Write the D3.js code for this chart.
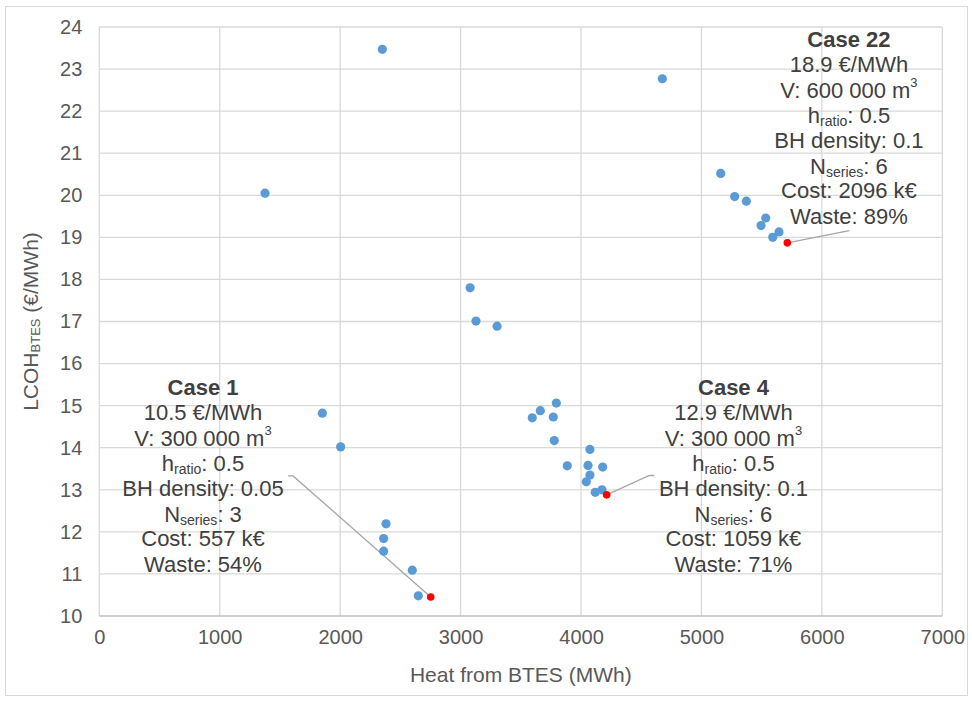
<!DOCTYPE html>
<html>
<head>
<meta charset="utf-8">
<script src="https://cdn.jsdelivr.net/npm/d3@7"></script>
<style>
  html, body { margin: 0; padding: 0; background: #fff; }
  svg { display: block; font-family: "Liberation Sans", Arial, sans-serif; }
</style>
</head>
<body>
<svg id="chart" width="972" height="701"></svg>
<script>
// ---- Data ----
const heatMWh = [2350, 4675, 1376, 5160, 5276, 5373, 5534, 5495, 5644, 5592,
                 3079, 3128, 3303, 3795, 3662, 3595, 3770, 3778, 4074, 3886,
                 4058, 4180, 4074, 4044, 4118, 4174, 1852, 2004, 2381, 2361,
                 2361, 2599, 2649];
const lcohBTES = [23.47, 22.77, 20.05, 20.52, 19.97, 19.86, 19.46, 19.28, 19.13, 19.00,
                  17.80, 17.01, 16.89, 15.06, 14.88, 14.71, 14.73, 14.17, 13.96, 13.57,
                  13.58, 13.54, 13.35, 13.19, 12.94, 13.00, 14.82, 14.02, 12.19, 11.84,
                  11.54, 11.09, 10.48];

const caseNames = ["Case 1", "Case 4", "Case 22"];
const caseHeat = [2752, 4213, 5713];
const caseLcoh = [10.45, 12.88, 18.87];
const caseCostLabel = ["10.5 €/MWh", "12.9 €/MWh", "18.9 €/MWh"];
const caseVolume = ["300 000", "300 000", "600 000"];
const caseHratio = ["0.5", "0.5", "0.5"];
const caseDensity = ["0.05", "0.1", "0.1"];
const caseNseries = ["3", "6", "6"];
const caseCost = ["557 k€", "1059 k€", "2096 k€"];
const caseWaste = ["54%", "71%", "89%"];
// label anchor (data units: centre x, first-line y) and leader elbow (data units)
const labelAnchorX = [861, 5266, 6225];
const labelAnchorY = [15.44, 15.44, 23.71];
const leaderElbowX = [1609, 4567, 6228];
const leaderElbowY = [13.33, 13.34, 19.16];
const leaderEndX = [1568, 4608, 6228];

const xTicks = [0, 1000, 2000, 3000, 4000, 5000, 6000, 7000];
const yTicks = [10, 11, 12, 13, 14, 15, 16, 17, 18, 19, 20, 21, 22, 23, 24];

// ---- Layout ----
const svg = d3.select("#chart");
const pL = 99.3, pR = 942.3, pT = 27, pB = 616;
const x = d3.scaleLinear().domain([0, 7000]).range([pL, pR]);
const y = d3.scaleLinear().domain([10, 24]).range([pB, pT]);

// outer chart border
svg.append("rect").attr("x", 5.5).attr("y", 6.5).attr("width", 962).attr("height", 689)
  .attr("fill", "#fff").attr("stroke", "#d9d9d9").attr("stroke-width", 1);

// gridlines
const grid = svg.append("g");
grid.selectAll("line.h").data(yTicks.filter(d => d > 10)).join("line")
  .attr("x1", pL).attr("x2", pR).attr("y1", d => y(d)).attr("y2", d => y(d))
  .attr("stroke", "#d9d9d9").attr("stroke-width", 1.3);
grid.selectAll("line.v").data(xTicks).join("line")
  .attr("y1", pT).attr("y2", pB).attr("x1", d => x(d)).attr("x2", d => x(d))
  .attr("stroke", "#d9d9d9").attr("stroke-width", 1.3);
// x axis line
svg.append("line").attr("x1", pL).attr("x2", pR).attr("y1", y(10)).attr("y2", y(10))
  .attr("stroke", "#bfbfbf").attr("stroke-width", 1.3);

// axes tick labels via d3 axes
const xAxis = svg.append("g").attr("transform", `translate(0,${pB})`)
  .call(d3.axisBottom(x).tickValues(xTicks).tickSize(0).tickPadding(14).tickFormat(d3.format("d")));
const yAxis = svg.append("g").attr("transform", `translate(${pL},0)`)
  .call(d3.axisLeft(y).tickValues(yTicks).tickSize(0).tickPadding(17).tickFormat(d3.format("d")));
[xAxis, yAxis].forEach(g => {
  g.select(".domain").remove();
  g.selectAll("text").attr("fill", "#595959").attr("font-size", 20)
    .attr("font-family", "Liberation Sans, Arial, sans-serif");
});

// axis titles
svg.append("text").attr("x", (pL + pR) / 2).attr("y", 674)
  .attr("text-anchor", "middle").attr("dominant-baseline", "central")
  .attr("fill", "#595959").attr("font-size", 21).text("Heat from BTES (MWh)");
const yt = svg.append("text").attr("transform", `translate(30,${(pT + pB) / 2}) rotate(-90)`)
  .attr("text-anchor", "middle").attr("dominant-baseline", "central")
  .attr("fill", "#595959").attr("font-size", 21);
yt.append("tspan").text("LCOH");
yt.append("tspan").attr("font-size", 13).attr("dy", 5).text("BTES");
yt.append("tspan").attr("dy", -5).text(" (€/MWh)");

// leader lines
const cases = caseNames.map((n, i) => ({ i, n }));
svg.append("g").selectAll("polyline").data(cases).join("polyline")
  .attr("points", d => [[x(caseHeat[d.i]), y(caseLcoh[d.i])],
                        [x(leaderElbowX[d.i]), y(leaderElbowY[d.i])],
                        [x(leaderEndX[d.i]), y(leaderElbowY[d.i])]].map(p => p.join(",")).join(" "))
  .attr("fill", "none").attr("stroke", "#a6a6a6").attr("stroke-width", 1.3);

// points
svg.append("g").selectAll("circle").data(heatMWh.map((h, i) => [h, lcohBTES[i]])).join("circle")
  .attr("cx", d => x(d[0])).attr("cy", d => y(d[1])).attr("r", 4.6)
  .attr("fill", "#5b9bd5");
svg.append("g").selectAll("circle").data(cases).join("circle")
  .attr("cx", d => x(caseHeat[d.i])).attr("cy", d => y(caseLcoh[d.i])).attr("r", 3.8)
  .attr("fill", "#ff0000");

// annotation labels
const lh = 25.3;
cases.forEach(d => {
  const i = d.i;
  const g = svg.append("g")
    .attr("transform", `translate(${x(labelAnchorX[i])},${y(labelAnchorY[i])})`)
    .attr("fill", "#404040").attr("font-size", 22).attr("text-anchor", "middle");
  const line = k => g.append("text").attr("y", k * lh).attr("dominant-baseline", "central");
  line(0).attr("font-weight", "bold").text(caseNames[i]);
  line(1).text(caseCostLabel[i]);
  const v = line(2); v.append("tspan").text("V: " + caseVolume[i] + " m");
  v.append("tspan").attr("font-size", 13).attr("dy", -8).text("3");
  const h = line(3); h.append("tspan").text("h");
  h.append("tspan").attr("font-size", 14).attr("dy", 6).text("ratio");
  h.append("tspan").attr("dy", -6).text(": " + caseHratio[i]);
  line(4).text("BH density: " + caseDensity[i]);
  const ns = line(5); ns.append("tspan").text("N");
  ns.append("tspan").attr("font-size", 14).attr("dy", 6).text("series");
  ns.append("tspan").attr("dy", -6).text(": " + caseNseries[i]);
  line(6).text("Cost: " + caseCost[i]);
  line(7).text("Waste: " + caseWaste[i]);
});
</script>
</body>
</html>
